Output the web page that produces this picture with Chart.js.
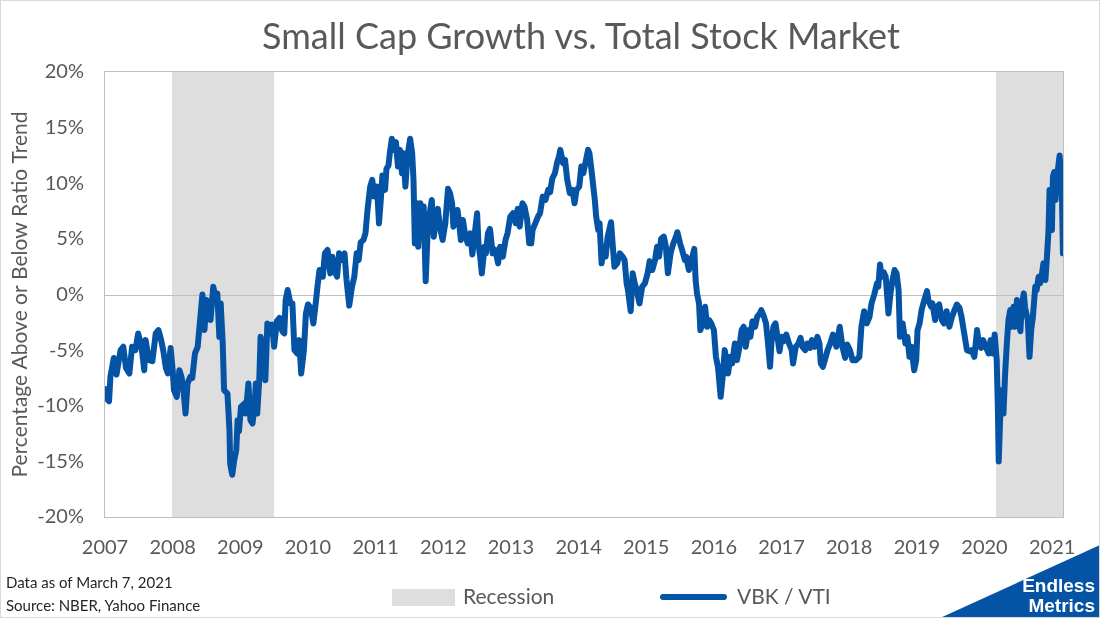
<!DOCTYPE html>
<html><head><meta charset="utf-8">
<script src="https://cdn.jsdelivr.net/npm/chart.js@4.4.1/dist/chart.umd.min.js"></script>
<style>
html,body{margin:0;padding:0;background:#fff;}
#wrap{position:relative;width:1100px;height:618px;overflow:hidden;font-family:Lato,"Open Sans",sans-serif;background:#fff;}
#frame{position:absolute;left:0;top:0;width:1098px;height:616px;border:1px solid #d9d9d9;pointer-events:none;}
canvas{position:absolute;left:0;top:0;}
.title{position:absolute;top:13px;left:0;width:1162px;text-align:center;font-size:36px;color:#595959;font-weight:400;white-space:nowrap;}
.note{position:absolute;left:6px;font-size:15px;color:#262626;white-space:nowrap;}
.legtxt{position:absolute;font-size:21px;color:#595959;white-space:nowrap;top:583px;}
.legbox{position:absolute;left:392px;top:589px;width:63px;height:17px;background:#dedede;}
.legline{position:absolute;left:660px;top:594px;width:67px;height:6px;border-radius:3px;background:#0553a5;}
.logo{position:absolute;left:940px;top:545px;width:160px;height:73px;background:#0553a5;clip-path:polygon(100% 0,100% 100%,0 100%);}
.logotext{position:absolute;right:5px;top:576px;color:#fff;font-weight:bold;font-size:19px;line-height:20px;text-align:right;font-family:"Liberation Sans Narrow","Liberation Sans",Lato,sans-serif;}
</style></head>
<body>
<div id="wrap">
<canvas id="c" width="1100" height="618"></canvas>
<div class="title">Small Cap Growth vs. Total Stock Market</div>
<div class="note" style="top:573px">Data as of March 7, 2021</div>
<div class="note" style="top:596px">Source: NBER, Yahoo Finance</div>
<div class="legbox"></div><div class="legtxt" style="left:463px">Recession</div>
<div class="legline"></div><div class="legtxt" style="left:737px">VBK / VTI</div>
<div class="logo"></div>
<div class="logotext">Endless<br>Metrics</div>
<div id="frame"></div>
</div>
<script>
// Decimal-year dates and VBK/VTI % above/below ratio trend
const dates = [
2007.00,2007.03,2007.06,2007.08,2007.13,2007.17,2007.23,2007.27,2007.31,2007.36,2007.40,2007.45,2007.49,2007.54,2007.58,2007.60,2007.65,2007.70,2007.75,2007.79,2007.83,2007.86,2007.90,2007.93,2007.97,
2008.00,2008.02,2008.06,2008.10,2008.13,2008.16,2008.19,2008.22,2008.26,2008.29,2008.33,2008.37,2008.41,2008.44,2008.47,2008.50,2008.54,2008.56,2008.60,2008.64,2008.66,2008.69,2008.71,2008.74,2008.76,2008.81,2008.84,2008.85,2008.88,2008.91,2008.94,2008.96,2008.98,
2009.01,2009.06,2009.08,2009.12,2009.15,2009.18,2009.21,2009.23,2009.25,2009.28,2009.30,2009.34,2009.37,2009.40,2009.43,2009.47,2009.50,2009.54,2009.58,2009.62,2009.65,2009.67,2009.70,2009.74,2009.77,2009.80,2009.84,2009.87,2009.90,2009.94,2009.97,
2010.00,2010.04,2010.08,2010.12,2010.14,2010.17,2010.22,2010.25,2010.29,2010.33,2010.36,2010.39,2010.43,2010.46,2010.49,2010.54,2010.57,2010.61,2010.65,2010.685,2010.72,2010.75,2010.78,2010.82,2010.85,2010.88,2010.92,2010.95,2010.98,
2011.02,2011.05,2011.08,2011.10,2011.14,2011.16,2011.19,2011.21,2011.24,2011.27,2011.30,2011.33,2011.36,2011.39,2011.41,2011.44,2011.47,2011.51,2011.54,2011.56,2011.58,2011.61,2011.63,2011.66,2011.69,2011.71,2011.74,2011.77,2011.80,2011.83,2011.86,2011.89,2011.92,2011.95,2011.99,
2012.03,2012.07,2012.10,2012.13,2012.15,2012.18,2012.21,2012.24,2012.26,2012.29,2012.32,2012.36,2012.40,2012.43,2012.46,2012.50,2012.52,2012.545,2012.57,2012.61,2012.63,2012.66,2012.69,2012.73,2012.77,2012.81,2012.84,2012.88,2012.92,2012.95,2012.99,
2013.03,2013.07,2013.10,2013.13,2013.17,2013.20,2013.24,2013.27,2013.30,2013.32,2013.36,2013.40,2013.43,2013.47,2013.51,2013.55,2013.58,2013.61,2013.65,2013.68,2013.71,2013.73,2013.77,2013.80,2013.83,2013.87,2013.91,2013.94,2013.97,
2014.01,2014.04,2014.07,2014.10,2014.14,2014.16,2014.19,2014.24,2014.26,2014.29,2014.31,2014.34,2014.37,2014.40,2014.43,2014.48,2014.51,2014.53,2014.57,2014.61,2014.65,2014.68,2014.71,2014.73,2014.77,2014.80,2014.83,2014.86,2014.90,2014.94,2014.98,
2015.02,2015.05,2015.09,2015.13,2015.16,2015.19,2015.22,2015.26,2015.29,2015.32,2015.36,2015.40,2015.44,2015.46,2015.50,2015.53,2015.57,2015.59,2015.63,2015.67,2015.71,2015.73,2015.75,2015.78,2015.80,2015.83,2015.87,2015.90,2015.93,2015.96,
2016.00,2016.03,2016.06,2016.10,2016.13,2016.16,2016.19,2016.21,2016.24,2016.27,2016.31,2016.34,2016.37,2016.41,2016.44,2016.47,2016.51,2016.54,2016.57,2016.61,2016.64,2016.68,2016.70,2016.74,2016.77,2016.80,2016.83,2016.85,2016.88,2016.91,2016.94,2016.97,
2017.00,2017.03,2017.07,2017.11,2017.15,2017.17,2017.21,2017.25,2017.28,2017.31,2017.35,2017.38,2017.42,2017.45,2017.49,2017.53,2017.56,2017.58,2017.61,2017.64,2017.68,2017.72,2017.76,2017.81,2017.86,2017.90,2017.94,2017.97,
2018.01,2018.05,2018.10,2018.15,2018.18,2018.22,2018.26,2018.30,2018.33,2018.37,2018.41,2018.43,2018.455,2018.48,2018.51,2018.54,2018.58,2018.61,2018.64,2018.67,2018.70,2018.73,2018.75,2018.79,2018.83,2018.86,2018.89,2018.92,2018.96,2018.99,
2019.01,2019.04,2019.07,2019.11,2019.15,2019.17,2019.21,2019.23,2019.27,2019.30,2019.33,2019.37,2019.40,2019.44,2019.48,2019.52,2019.55,2019.59,2019.63,2019.66,2019.70,2019.74,2019.78,2019.81,2019.85,2019.89,2019.91,2019.95,2019.98,
2020.02,2020.06,2020.09,2020.12,2020.15,2020.18,2020.197,2020.21,2020.23,2020.256,2020.28,2020.305,2020.33,2020.354,2020.38,2020.40,2020.43,2020.45,2020.48,2020.50,2020.53,2020.55,2020.58,2020.60,2020.64,2020.665,2020.69,2020.715,2020.75,2020.77,2020.80,2020.82,2020.85,2020.87,2020.90,2020.92,2020.946,2020.961,2020.981,2020.996,
2021.011,2021.03,2021.05,2021.07,2021.09,2021.11,2021.13,2021.144,2021.159
];
const ratio = [
-8.5,-9.4,-9.6,-7.4,-5.7,-7.2,-5.0,-4.7,-6.6,-7.1,-4.7,-5.0,-3.5,-4.7,-6.8,-4.1,-5.9,-6.0,-3.5,-3.2,-4.1,-5.0,-6.6,-7.1,-4.8,
-6.8,-8.6,-9.2,-6.8,-7.4,-8.6,-10.7,-8.0,-7.4,-7.5,-5.3,-4.7,-2.0,0.0,-3.2,-0.5,-0.8,-2.3,0.7,-0.5,0.1,-3.8,-0.8,-4.4,-8.6,-8.9,-12.2,-15.2,-16.2,-14.9,-14.0,-11.3,-12.3,
-10.1,-9.8,-10.7,-8.0,-11.3,-11.6,-10.1,-8.0,-10.7,-7.7,-3.8,-5.6,-7.7,-2.6,-3.5,-2.7,-4.7,-2.4,-2.1,-3.3,-3.5,-0.5,0.4,-0.8,-0.8,-5.0,-5.3,-4.1,-7.1,-5.0,-1.7,
-0.9,-1.2,-2.6,-0.5,0.7,2.2,1.6,3.7,4.0,1.9,3.4,2.2,1.6,3.7,3.1,3.7,1.3,-1.0,0.7,1.6,3.7,3.1,4.7,4.9,5.5,7.6,9.7,10.3,8.8,
9.7,6.4,8.8,10.7,9.4,11.3,11.6,12.7,14.0,13.0,13.7,11.5,13.0,10.9,12.7,9.7,12.4,14.0,12.7,10.3,4.6,8.2,4.3,8.2,5.8,7.9,1.2,5.8,7.3,8.5,5.2,6.7,7.7,6.1,4.9,
6.4,9.5,9.1,8.2,6.1,6.7,7.6,6.1,4.9,6.7,5.5,4.6,5.5,3.6,5.2,7.3,4.6,3.4,1.9,4.3,3.7,5.5,5.9,3.7,4.0,2.8,4.3,3.4,4.9,5.5,7.0,
7.3,6.4,7.7,6.1,8.2,7.9,6.7,4.6,4.6,5.8,6.4,7.0,7.3,8.8,8.5,9.4,9.2,10.4,10.9,11.8,12.4,13.0,11.8,12.1,10.4,9.1,9.4,8.2,9.4,
9.7,11.5,10.9,11.8,13.0,12.7,11.2,8.5,7.0,5.8,6.4,2.8,4.3,3.4,5.2,6.5,4.0,2.5,2.8,3.7,3.4,3.1,1.0,0.4,-1.5,1.9,1.0,0.4,-0.8,0.7,1.0,
1.9,3.0,2.2,3.1,4.3,3.4,5.0,5.2,4.3,1.9,3.7,4.6,5.2,5.6,4.6,4.0,3.1,3.4,2.2,3.1,4.1,1.3,0.1,-0.8,-3.2,-2.6,-1.1,-2.9,-2.3,-2.6,
-3.2,-5.6,-6.5,-9.2,-7.4,-5.0,-6.2,-7.1,-5.6,-6.2,-4.4,-5.9,-5.0,-3.2,-2.9,-4.7,-3.2,-3.8,-2.4,-2.9,-2.0,-1.7,-1.4,-2.0,-2.6,-4.4,-6.5,-4.4,-2.9,-2.6,-3.8,-5.1,
-3.8,-4.2,-3.6,-4.4,-5.0,-6.2,-4.7,-4.4,-3.9,-4.7,-5.0,-4.4,-4.8,-4.1,-4.7,-3.8,-4.4,-6.2,-6.5,-5.9,-5.0,-4.4,-3.6,-4.7,-2.9,-4.7,-5.7,-4.5,
-5.0,-5.9,-5.9,-5.6,-2.9,-1.5,-2.6,-2.0,-0.8,0.0,1.0,0.7,2.7,1.6,2.0,1.6,-1.7,0.1,1.3,2.2,1.9,0.4,-3.8,-2.6,-4.4,-3.8,-5.6,-4.7,-6.8,-5.9,
-3.2,-2.6,-1.4,-0.5,0.3,-0.5,-1.1,-0.8,-2.3,-1.1,-0.9,-2.3,-2.6,-1.5,-2.9,-2.0,-1.5,-0.9,-1.2,-2.0,-3.5,-5.0,-5.1,-5.0,-5.6,-3.2,-4.1,-4.8,-4.1,
-4.7,-5.3,-4.1,-5.3,-3.6,-5.9,-10.1,-15.0,-11.3,-8.6,-10.7,-7.1,-4.4,-2.3,-1.4,-2.9,-1.1,-2.9,-0.5,-2.3,-3.3,-1.1,0.1,-1.2,-2.3,-5.6,-3.2,-2.0,0.7,0.4,1.6,1.0,1.9,2.8,1.3,3.1,5.8,9.4,7.9,5.8,
10.6,11.0,8.5,10.6,11.5,12.5,10.9,8.9,3.7
];
const xTicks = [2007,2008,2009,2010,2011,2012,2013,2014,2015,2016,2017,2018,2019,2020,2021];
const yTicks = [-20,-15,-10,-5,0,5,10,15,20];
const recessionStart = [2007.99, 2020.17];
const recessionEnd = [2009.50, 2021.16];
const xMin = 2007, xMax = 2021.16;

const recessionPlugin = {
  id: 'recession',
  beforeDatasetsDraw(chart) {
    const {ctx, chartArea: a, scales: {x}} = chart;
    ctx.save();
    ctx.fillStyle = '#dedede';
    for (let i = 0; i < recessionStart.length; i++) {
      const x0 = Math.max(a.left, x.getPixelForValue(recessionStart[i]));
      const x1 = Math.min(a.right, x.getPixelForValue(recessionEnd[i]));
      ctx.fillRect(x0, a.top, x1 - x0, a.bottom - a.top);
    }
    ctx.strokeStyle = '#bfbfbf';
    ctx.lineWidth = 1;
    ctx.strokeRect(Math.round(a.left) - 0.5, Math.round(a.top) - 0.5, Math.round(a.right - a.left) + 1, Math.round(a.bottom - a.top) + 1);
    const y0 = Math.round(chart.scales.y.getPixelForValue(0)) + 0.5;
    ctx.beginPath(); ctx.moveTo(a.left, y0); ctx.lineTo(a.right, y0); ctx.stroke();
    ctx.restore();
  }
};

new Chart(document.getElementById('c'), {
  type: 'line',
  data: {
    datasets: [{
      label: 'VBK / VTI',
      data: dates.map((d, i) => ({x: d, y: ratio[i]})),
      borderColor: '#0553a5',
      borderWidth: 6,
      pointRadius: 0,
      tension: 0,
      borderJoinStyle: 'round',
      borderCapStyle: 'round'
    }]
  },
  options: {
    responsive: false,
    animation: false,
    devicePixelRatio: 1,
    layout: {padding: {top: 72, right: 37, bottom: 56, left: 0}},
    plugins: {legend: {display: false}, tooltip: {enabled: false}},
    scales: {
      x: {
        type: 'linear', min: xMin, max: xMax,
        afterFit(s) { s.height = 45; },
        afterBuildTicks(s) { s.ticks = xTicks.map(v => ({value: v})); },
        grid: {display: false, drawTicks: false},
        border: {display: false},
        ticks: {padding: 19, autoSkip: false, maxRotation: 0, color: '#595959', font: {family: 'Lato', size: 20}, callback: v => String(v)}
      },
      y: {
        min: -20, max: 20,
        afterFit(s) { s.width = 105; },
        afterBuildTicks(s) { s.ticks = yTicks.map(v => ({value: v})); },
        grid: {display: false, drawTicks: false},
        border: {display: false},
        ticks: {padding: 21, color: '#595959', font: {family: 'Lato', size: 20}, callback: v => v + '%'},
        title: {display: true, text: 'Percentage Above or Below Ratio Trend', color: '#595959', font: {family: 'Lato', size: 21}, padding: {top: 8, bottom: 0}}
      }
    }
  },
  plugins: [recessionPlugin]
});
</script>
</body></html>
